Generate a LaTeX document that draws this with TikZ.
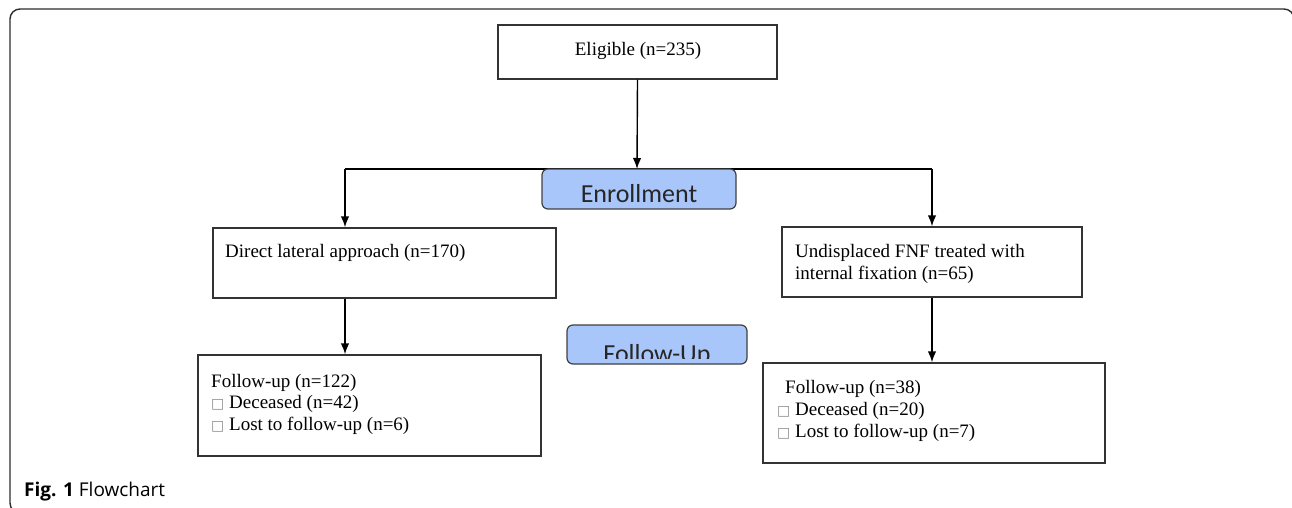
\documentclass[tikz,border=0pt]{standalone}
\usepackage{fontspec}
\setmainfont{Liberation Serif}
\newfontfamily\enrfont{Carlito}
\newfontfamily\capfont{Open Sans}
\newfontfamily\symfont{DejaVu Sans}
\usetikzlibrary{arrows.meta}
\definecolor{phase}{RGB}{168,198,250}
\definecolor{framec}{RGB}{45,45,45}
\newcommand{\bxmark}{{\symfont\fontsize{14}{14}\selectfont\textcolor{black!45}{□}}}
\tikzset{
  box/.style={draw=black!80, line width=1.4pt, inner sep=0pt, rectangle},
  phasebox/.style={draw=black!75, fill=phase, rounded corners=6pt, line width=1.2pt, inner sep=0pt},
  txt/.style={anchor=base west, inner sep=0pt, font=\fontsize{19}{22}\selectfont},
  ctxt/.style={anchor=base, inner sep=0pt, font=\fontsize{19}{22}\selectfont},
  phasetxt/.style={anchor=base, inner sep=0pt, font=\enrfont\fontsize{26}{30}\selectfont, text=black!85},
  arr/.style={-{Latex[length=11pt,width=8.5pt]}, line width=1.4pt},
  conn/.style={line width=1.4pt},
  framel/.style={draw=framec, line width=1.4pt, rounded corners=10pt}
}
\begin{document}
\begin{tikzpicture}[x=1pt,y=-1pt]
\useasboundingbox (0,0) rectangle (1292,508);
\clip (0,0) rectangle (1292,508);
% outer frame
\draw[framel] (1294,60) -- (1294,9) -- (10,9) -- (10,513) -- (60,513);
% boxes
\node[box, minimum width=279pt, minimum height=54pt] (elig) at (637.5,52) {};
\node[ctxt] (eligt) at (638,56) {Eligible (n=235)};
\coordinate (j) at (637,169);
\coordinate (jl) at (345,169);
\coordinate (jr) at (932,169);
\draw[conn] (jl) -- (jr);
\draw[arr] (elig.south) -- (j);
\node[phasebox, minimum width=194pt, minimum height=40pt] (enr) at (639,189) {};
\node[phasetxt] (enrt) at (639,202) {Enrollment};

\node[box, minimum width=343pt, minimum height=70pt] (dla) at (384.5,263) {};
\node[txt] (dlat) at (225,257) {Direct lateral approach (n=170)};
\node[box, minimum width=300pt, minimum height=70pt] (ifx) at (932,262) {};
\node[txt] (ifxt1) at (795,257) {Undisplaced FNF treated with};
\node[txt] (ifxt2) at (795,279) {internal fixation (n=65)};
\draw[arr] (jl) -- (jl |- dla.north);
\draw[arr] (jr) -- (jr |- ifx.north);

\node[phasebox, minimum width=180pt, minimum height=39pt] (fuh) at (657,344.5) {};
\begin{scope}
\clip (567,325) rectangle (747,358);
\node[phasetxt] (fuht) at (657,362) {Follow-Up};
\end{scope}

\node[box, minimum width=343pt, minimum height=101pt] (fu1) at (369.5,405.5) {};
\node[txt] (fu1a) at (211,387) {Follow-up (n=122)};
\node[txt] (fu1b) at (211,408) {\bxmark\ Deceased (n=42)};
\node[txt] (fu1c) at (211,430) {\bxmark\ Lost to follow-up (n=6)};
\node[box, minimum width=342pt, minimum height=100pt] (fu2) at (934,413) {};
\node[txt] (fu2a) at (785,393) {Follow-up (n=38)};
\node[txt] (fu2b) at (777,415) {\bxmark\ Deceased (n=20)};
\node[txt] (fu2c) at (777,437) {\bxmark\ Lost to follow-up (n=7)};

\draw[arr] (dla.south -| jl) -- (fu1.north -| jl);
\draw[arr] (ifx.south) -- (ifx.south |- fu2.north);

\node[anchor=base west, inner sep=0pt, font=\capfont\fontsize{19}{22}\selectfont] (cap) at (24,496) {\textbf{Fig. 1} Flowchart};
\end{tikzpicture}
\end{document}
